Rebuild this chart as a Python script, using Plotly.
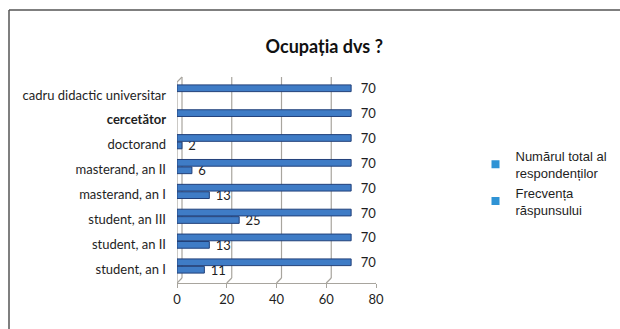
import plotly.graph_objects as go

# Survey answers: occupation of respondents
categories = [
    "student, an I",
    "student, an II",
    "student, an III",
    "masterand, an I",
    "masterand, an II",
    "doctorand",
    "cercetător",
    "cadru didactic universitar",
]
tick_labels = [
    "student, an I",
    "student, an II",
    "student, an III",
    "masterand, an I",
    "masterand, an II",
    "doctorand",
    "<b>cercetător</b>",
    "cadru didactic universitar",
]
total_respondents = [70, 70, 70, 70, 70, 70, 70, 70]
answer_frequency = [11, 13, 25, 13, 6, 2, None, None]
x_ticks = [0, 20, 40, 60, 80]
legend_names = ["Numărul total al<br>respondenților", "Frecvența<br>răspunsului"]

BAR_FILL = "#3F7CC6"
BAR_EDGE = "#22407A"
LEGEND_SWATCH = "#2F93D5"
FRAME = "#A8A59E"
TEXT = "#1E1E1E"
CAL = "Lato, 'Open Sans', sans-serif"

fig = go.Figure()

fig.add_trace(go.Bar(
    name=legend_names[1], showlegend=False,
    y=categories, x=answer_frequency, orientation="h",
    marker=dict(color=BAR_FILL, line=dict(color=BAR_EDGE, width=1)),
    texttemplate=" %{x}",
    textposition="outside", cliponaxis=False, constraintext="none",
    textfont=dict(family=CAL, size=13, color=TEXT),
))
fig.add_trace(go.Bar(
    name=legend_names[0], showlegend=False,
    y=categories, x=total_respondents, orientation="h",
    marker=dict(color=BAR_FILL, line=dict(color=BAR_EDGE, width=1)),
    texttemplate="  %{x}",
    textposition="outside", cliponaxis=False, constraintext="none",
    textfont=dict(family=CAL, size=13, color=TEXT),
))

# legend entries with flat square swatches
for name in legend_names:
    fig.add_trace(go.Scatter(
        name=name, x=[None], y=[None], mode="markers",
        marker=dict(symbol="square", size=8, color=LEGEND_SWATCH),
        showlegend=True, hoverinfo="skip",
    ))

shapes = []
# back wall gridlines and floor diagonals (pseudo-3D frame)
for v in x_ticks:
    shapes.append(dict(type="line", xref="x", yref="paper",
                       xsizemode="pixel", ysizemode="pixel",
                       xanchor=v, yanchor=0, x0=5, x1=5, y0=5, y1=206,
                       line=dict(color=FRAME, width=1.2), layer="below"))
    shapes.append(dict(type="line", xref="x", yref="paper",
                       xsizemode="pixel", ysizemode="pixel",
                       xanchor=v, yanchor=0, x0=5, x1=0, y0=5, y1=0,
                       line=dict(color=FRAME, width=1.2), layer="below"))
# left front edge with its top corner
shapes.append(dict(type="line", xref="x", yref="paper",
                   xsizemode="pixel", ysizemode="pixel",
                   xanchor=0, yanchor=0, x0=0, x1=0, y0=0, y1=201,
                   line=dict(color=FRAME, width=1.2), layer="below"))
shapes.append(dict(type="line", xref="x", yref="paper",
                   xsizemode="pixel", ysizemode="pixel",
                   xanchor=0, yanchor=0, x0=0, x1=5, y0=201, y1=206,
                   line=dict(color=FRAME, width=1.2), layer="below"))
# outer chart border (top and left)
shapes.append(dict(type="line", xref="paper", yref="paper",
                   xsizemode="pixel", ysizemode="pixel",
                   xanchor=0, yanchor=0, x0=-168, x1=460, y0=273, y1=273,
                   line=dict(color="#555555", width=1.5)))
shapes.append(dict(type="line", xref="paper", yref="paper",
                   xsizemode="pixel", ysizemode="pixel",
                   xanchor=0, yanchor=0, x0=-168, x1=-168, y0=273, y1=-60,
                   line=dict(color="#555555", width=1.5)))

fig.update_layout(
    width=620, height=329,
    margin=dict(l=177, r=244, t=77, b=46, autoexpand=False),
    paper_bgcolor="white", plot_bgcolor="white",
    barmode="group", bargap=0.4, bargroupgap=0.1,
    title=dict(text="<b>Ocupația dvs ?</b>", x=0.523, xref="container",
               y=0.857, yref="container", xanchor="center", yanchor="middle",
               font=dict(family=CAL, size=18, color="#111111")),
    font=dict(family=CAL, color=TEXT),
    showlegend=True,
    legend=dict(x=1.50, xanchor="left",
                y=0.69, yanchor="top", bgcolor="rgba(0,0,0,0)",
                font=dict(family="Liberation Sans, Arial, sans-serif", size=13, color=TEXT),
                itemwidth=30, tracegroupgap=0),
    xaxis=dict(range=[0, 80], tickvals=x_ticks, showgrid=False, zeroline=False,
               showline=True, linecolor=FRAME, linewidth=1.2,
               ticks="outside", ticklen=4, tickcolor=FRAME,
               tickfont=dict(family=CAL, size=13, color=TEXT)),
    yaxis=dict(type="category", categoryorder="array", categoryarray=categories,
               tickvals=categories, ticktext=tick_labels,
               range=[-0.684, 7.603], showgrid=False, zeroline=False,
               showline=False, ticks="", ticklabelstandoff=10, ticklabelshift=3,
               tickfont=dict(family=CAL, size=13, color=TEXT)),
    shapes=shapes,
)

fig.write_html("out.html")
